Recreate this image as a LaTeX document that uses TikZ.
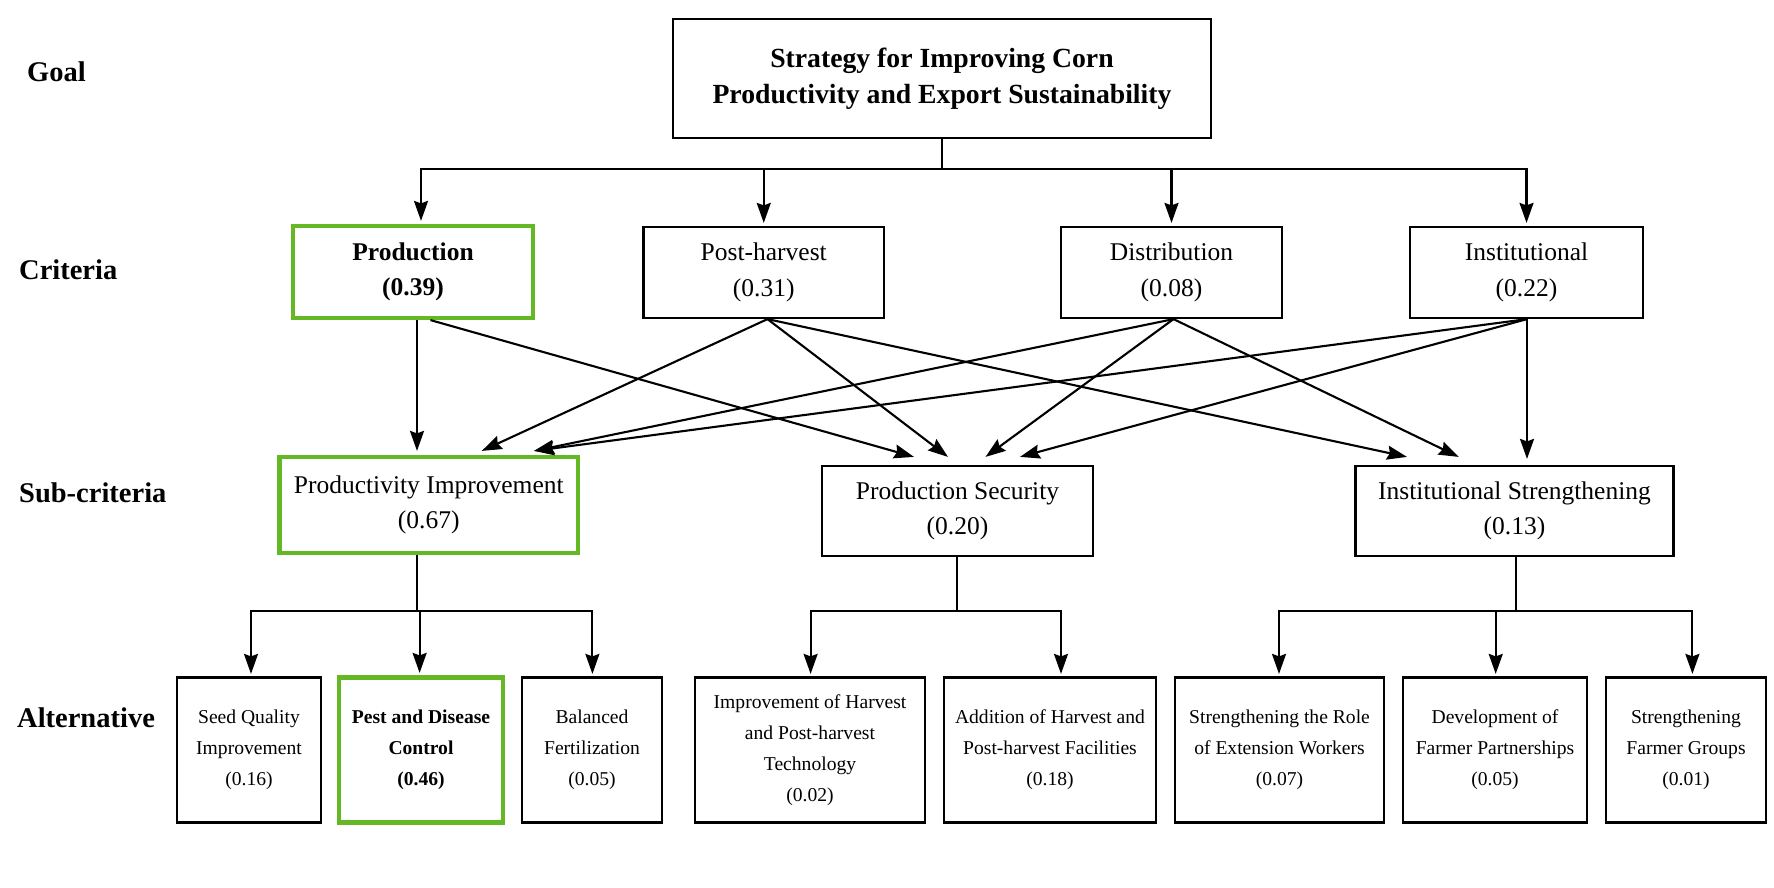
\documentclass[tikz,border=0pt]{standalone}
\usepackage{fontspec}
\setmainfont{Liberation Serif}
\usetikzlibrary{arrows.meta}
\definecolor{hlgreen}{RGB}{100,184,36}
\begin{document}
\begin{tikzpicture}[x=1pt,y=-1pt,
  box/.style={draw=black, line width=2.2pt, align=center, inner sep=0pt},
  hl/.style={draw=hlgreen, line width=4.2pt},
  arr/.style={line width=2.1pt, -{Stealth[length=20pt,width=14pt,inset=2.5pt]}},
  ln/.style={line width=2.1pt},
  lvl/.style={anchor=west, inner sep=0pt, font=\fontsize{28.5}{34}\selectfont\bfseries},
  crit/.style={box, font=\fontsize{25.5}{35.5}\selectfont},
  alt/.style={box, font=\fontsize{19.6}{31}\selectfont, minimum height=145pt},
]
\fill[white] (0,0) rectangle (1774,887);
\useasboundingbox (0,0) rectangle (1774,887);

% level labels
\node[lvl] (lg) at (27,72) {Goal};
\node[lvl] (lc) at (19,270) {Criteria};
\node[lvl] (ls) at (19,493) {Sub-criteria};
\node[lvl] (la) at (17,718) {Alternative};

% goal
\node[box, font=\fontsize{27.7}{36}\selectfont\bfseries, minimum width=538pt, minimum height=119pt] (goal) at (942,78.5) {Strategy for Improving Corn\\Productivity and Export Sustainability};

% criteria
\node[crit, hl, font=\fontsize{25.5}{35.5}\selectfont\bfseries, minimum width=240pt, minimum height=92pt] (prod) at (413,272) {Production\\(0.39)};
\node[crit, minimum width=240.5pt, minimum height=91pt] (post) at (763.75,272.5) {Post-harvest\\(0.31)};
\node[crit, minimum width=221pt, minimum height=91pt] (dist) at (1171.5,272.5) {Distribution\\(0.08)};
\node[crit, minimum width=233pt, minimum height=91pt] (inst) at (1526.5,272.5) {Institutional\\(0.22)};

% sub-criteria
\node[crit, hl, minimum width=298.5pt, minimum height=96pt] (pi) at (428.75,505) {Productivity Improvement\\(0.67)};
\node[crit, minimum width=271pt, minimum height=90pt] (ps) at (957.5,511) {Production Security\\(0.20)};
\node[crit, minimum width=318pt, minimum height=90pt] (is) at (1514.5,511) {Institutional Strengthening\\(0.13)};

% alternatives
\node[alt, minimum width=144pt] (a1) at (249,750) {Seed Quality\\Improvement\\(0.16)};
\node[alt, hl, font=\fontsize{19.6}{31}\selectfont\bfseries, minimum width=164pt] (a2) at (421,750) {Pest and Disease\\Control\\(0.46)};
\node[alt, minimum width=140.5pt] (a3) at (592,750) {Balanced\\Fertilization\\(0.05)};
\node[alt, minimum width=230.6pt] (a4) at (810,750) {Improvement of Harvest\\and Post-harvest\\Technology\\(0.02)};
\node[alt, minimum width=212pt] (a5) at (1050,750) {Addition of Harvest and\\Post-harvest Facilities\\(0.18)};
\node[alt, minimum width=209pt] (a6) at (1279.5,750) {Strengthening the Role\\of Extension Workers\\(0.07)};
\node[alt, minimum width=184pt] (a7) at (1495,750) {Development of\\Farmer Partnerships\\(0.05)};
\node[alt, minimum width=160.5pt] (a8) at (1686,750) {Strengthening\\Farmer Groups\\(0.01)};

% goal -> criteria
\coordinate (gb) at (942,169);
\draw[ln] (goal.south) -- (gb);
\draw[arr] (gb) -| ([xshift=8pt,yshift=3pt]prod.north);
\draw[arr] (gb) -| ([yshift=3pt]post.north);
\draw[arr] (gb) -| ([yshift=3pt]dist.north);
\draw[arr] (gb) -| ([yshift=3pt]inst.north);

% criteria -> sub-criteria
\draw[arr] ([xshift=4pt]prod.south) -- ([xshift=-11.75pt,yshift=4pt]pi.north);
\draw[arr] ([xshift=17.5pt]prod.south) -- ([xshift=-43.5pt,yshift=8pt]ps.north);
\draw[arr] ([xshift=3.75pt]post.south) -- ([xshift=53pt,yshift=4pt]pi.north);
\draw[arr] ([xshift=3.75pt]post.south) -- ([xshift=-9.5pt,yshift=8pt]ps.north);
\draw[arr] ([xshift=3.75pt]post.south) -- ([xshift=-107.5pt,yshift=8pt]is.north);
\draw[arr] ([xshift=2pt]dist.south) -- ([xshift=105.25pt,yshift=4pt]pi.north);
\draw[arr] ([xshift=2pt]dist.south) -- ([xshift=28pt,yshift=8pt]ps.north);
\draw[arr] ([xshift=2pt]dist.south) -- ([xshift=-55.8pt,yshift=8pt]is.north);
\draw[arr] ([xshift=0.5pt]inst.south) -- ([xshift=105.25pt,yshift=4pt]pi.north);
\draw[arr] ([xshift=0.5pt]inst.south) -- ([xshift=62.5pt,yshift=8pt]ps.north);
\draw[arr] ([xshift=0.5pt]inst.south) -- ([xshift=12.5pt,yshift=6pt]is.north);

% sub-criteria -> alternatives
\coordinate (pib) at (417,611);
\coordinate (psb) at (957,611);
\coordinate (isb) at (1515.7,611);
\draw[ln] ([xshift=-11.75pt]pi.south) -- (pib);
\draw[arr] (pib) -| ([xshift=2pt,yshift=2.5pt]a1.north);
\draw[arr] (pib) -| ([xshift=-1.4pt,yshift=2.5pt]a2.north);
\draw[arr] (pib) -| ([xshift=0.4pt,yshift=2.5pt]a3.north);
\draw[ln] ([xshift=-0.5pt]ps.south) -- (psb);
\draw[arr] (psb) -| ([xshift=0.6pt,yshift=2.5pt]a4.north);
\draw[arr] (psb) -| ([xshift=11pt,yshift=2.5pt]a5.north);
\draw[ln] ([xshift=1.2pt]is.south) -- (isb);
\draw[arr] (isb) -| ([xshift=-0.5pt,yshift=2.5pt]a6.north);
\draw[arr] (isb) -| ([xshift=0.7pt,yshift=2.5pt]a7.north);
\draw[arr] (isb) -| ([xshift=6.4pt,yshift=2.5pt]a8.north);
\end{tikzpicture}
\end{document}
